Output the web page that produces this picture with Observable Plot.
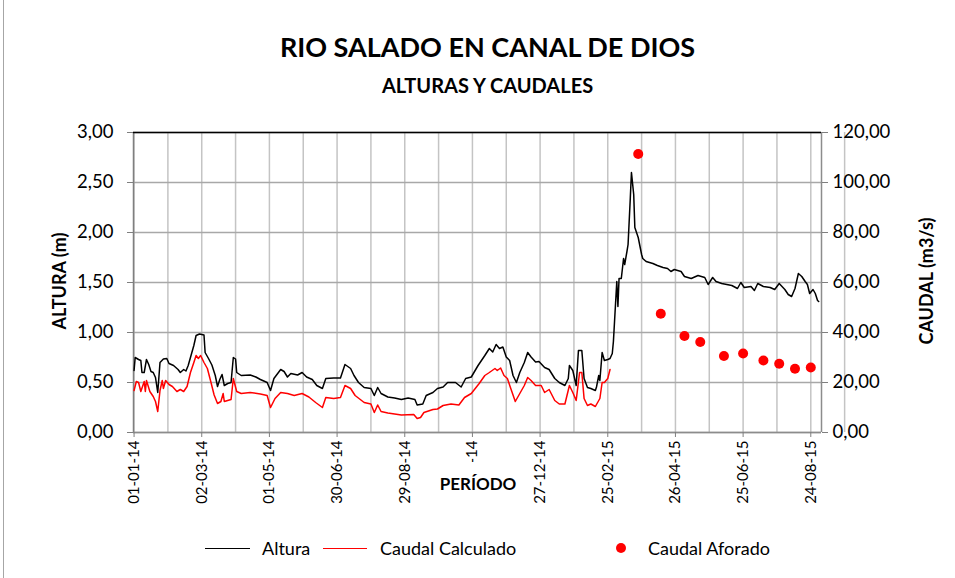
<!DOCTYPE html>
<html>
<head>
<meta charset="utf-8">
<script src="https://cdn.jsdelivr.net/npm/d3@7"></script>
<script src="https://cdn.jsdelivr.net/npm/@observablehq/plot@0.6"></script>
<style>
  body { margin: 0; background: #fff; }
  #wrap { position: relative; width: 955px; height: 578px; overflow: hidden; font-family: Lato, "Open Sans", sans-serif; color: #000; background: #fff; }
  #chart { position: absolute; left: 0; top: 0; }
  .abs { position: absolute; white-space: nowrap; }
  #title { left: 0; width: 975px; top: 30px; text-align: center; font-weight: bold; font-size: 27px; }
  #subtitle { left: 0; width: 975px; top: 73px; text-align: center; font-weight: bold; font-size: 20px; }
  .ytitle { font-weight: bold; font-size: 18px; transform-origin: center center; }
  #xtitle { left: 433px; top: 462px; width: 90px; height: 44px; line-height: 44px; text-align: center; font-weight: bold; font-size: 17px; background: #fff; }
  .leg { font-size: 18px; top: 537px; }
  .sw { position: absolute; height: 0; top: 548px; }
  #border { position: absolute; left: 3px; top: 0; width: 0; height: 578px; border-left: 1px solid #a6a6a6; }
</style>
</head>
<body>
<div id="wrap">
  <div id="border"></div>
  <div id="chart"></div>
  <div id="title" class="abs">RIO SALADO EN CANAL DE DIOS</div>
  <div id="subtitle" class="abs">ALTURAS Y CAUDALES</div>
  <div class="abs ytitle" style="left:7px; top:270px; width:104px; text-align:center; transform: rotate(-90deg);">ALTURA (m)</div>
  <div class="abs ytitle" style="left:857px; top:270px; width:138px; text-align:center; transform: rotate(-90deg);">CAUDAL (m3/s)</div>
  <div id="xtitle" class="abs">PERÍODO</div>
  <div class="sw" style="left:205px; width:45px; border-top:1.5px solid #000;"></div>
  <div class="abs leg" style="left:262px;">Altura</div>
  <div class="sw" style="left:323px; width:44px; border-top:1.5px solid #ff0000;"></div>
  <div class="abs leg" style="left:380px;">Caudal Calculado</div>
  <div class="abs" style="left:616px; top:543px; width:10px; height:10px; border-radius:50%; background:#ff0000;"></div>
  <div class="abs leg" style="left:648px;">Caudal Aforado</div>
</div>
<script>
// ---- Data (day offsets counted from 01-01-2014) ----
const fechaInicio = "2014-01-01";

const alturaDias = [0,1,4,6,7,9,11,13,15,17,19,21,23,26,29,31,35,39,41,44,46,48,51,53,55,58,62,63,66,69,72,74,76,78,80,83,86,88,90,91,95,103,108,112,118,121,124,130,133,136,139,145,149,153,158,162,167,170,177,183,187,192,195,199,204,210,213,216,219,225,231,237,243,249,251,256,259,265,269,274,278,285,290,294,299,305,311,315,318,321,324,327,330,333,336,339,342,346,349,352,356,359,364,368,373,377,382,385,386,389,392,394,397,399,402,405,409,410,412,413,415,417,420,422,424,425,426,428,429,430,432,434,435,437,438,440,441,443,444,447,450,451,454,460,464,469,473,476,479,482,485,488,494,500,506,509,513,516,521,530,535,538,541,547,550,553,558,564,568,572,577,580,583,586,589,592,595,597,599,602,604,606,607];
const alturaValores = [0.62,0.75,0.73,0.72,0.60,0.60,0.73,0.68,0.61,0.60,0.55,0.40,0.70,0.735,0.74,0.69,0.67,0.63,0.60,0.63,0.615,0.67,0.79,0.87,0.97,0.985,0.975,0.80,0.74,0.675,0.57,0.46,0.53,0.58,0.47,0.49,0.50,0.75,0.735,0.60,0.57,0.575,0.555,0.53,0.50,0.42,0.54,0.63,0.61,0.555,0.59,0.575,0.60,0.555,0.53,0.47,0.44,0.54,0.545,0.545,0.68,0.64,0.57,0.50,0.45,0.44,0.37,0.45,0.39,0.355,0.345,0.33,0.345,0.33,0.275,0.285,0.37,0.40,0.44,0.455,0.50,0.50,0.455,0.54,0.555,0.67,0.77,0.84,0.805,0.88,0.84,0.855,0.755,0.72,0.57,0.50,0.60,0.70,0.80,0.755,0.705,0.71,0.65,0.63,0.54,0.50,0.47,0.54,0.67,0.62,0.47,0.82,0.82,0.54,0.45,0.44,0.42,0.455,0.57,0.52,0.80,0.72,0.73,0.74,0.79,0.91,1.11,1.51,1.26,1.54,1.54,1.74,1.68,1.81,1.88,2.35,2.60,2.38,2.05,1.95,1.78,1.74,1.71,1.69,1.67,1.65,1.64,1.61,1.63,1.62,1.61,1.56,1.54,1.57,1.55,1.48,1.55,1.51,1.49,1.47,1.44,1.50,1.45,1.46,1.42,1.49,1.46,1.45,1.43,1.49,1.43,1.38,1.36,1.44,1.59,1.56,1.51,1.48,1.39,1.43,1.39,1.32,1.31];

const caudalCalcDias = [0,2,4,6,9,10,11,14,17,19,21,23,25,26,28,31,34,38,41,44,47,50,53,55,57,59,62,65,68,71,74,77,79,80,83,86,88,91,95,103,112,118,121,125,130,136,142,149,155,161,167,170,177,183,187,192,196,204,210,213,216,219,225,237,248,251,254,257,265,269,274,281,288,293,299,306,311,315,320,322,325,328,331,334,338,342,346,349,352,356,361,364,368,373,377,382,386,389,392,395,397,399,402,405,409,413,415,417,420,422];
const caudalCalcValores = [16.8,20.4,20.0,16.4,20.4,16.4,20.8,16.4,14.4,12.4,8.4,16.8,20.8,17.6,20.8,19.2,18.4,16.4,17.2,16.4,18.4,24.0,28.0,30.8,29.6,30.8,28.0,25.6,20.4,15.0,11.6,12.4,15.6,12.4,12.8,13.2,21.6,16.4,15.6,16.0,15.4,14.8,10.0,13.6,16.0,15.6,14.8,15.6,14.2,12.0,10.0,14.0,13.6,14.0,18.8,17.6,14.8,12.0,11.4,8.0,11.0,8.4,7.8,7.0,7.2,5.6,6.0,8.0,9.2,9.4,10.8,11.4,11.0,14.0,15.6,19.6,22.8,24.0,25.6,24.8,25.8,22.8,21.6,17.6,12.4,15.6,18.8,22.0,20.8,18.8,18.8,16.0,17.2,12.8,11.4,11.4,18.8,16.0,12.8,24.0,24.0,13.6,10.8,11.4,10.4,13.6,20.0,20.0,21.6,25.2];

const aforoDias = [447,467,488,502,523,540,558,572,586,600];
const aforoValores = [111.4,47.5,38.6,36.2,30.6,31.6,28.8,27.5,25.5,26.0];

const etiquetasX = ["01-01-14","02-03-14","01-05-14","30-06-14","29-08-14","28-10-14","27-12-14","25-02-15","26-04-15","25-06-15","24-08-15"];
const ticksAltura = [0,0.5,1,1.5,2,2.5,3];
const factorCaudal = 40; // 3,00 m  <->  120,00 m3/s

// ---- Build ----
const t0 = Date.parse(fechaInicio + "T00:00:00Z");
const day = 864e5;
const toDate = d => new Date(t0 + d * day);
const parseX = d3.utcParse("%d-%m-%y");
const fmtX = d3.utcFormat("%d-%m-%y");
const fmtNum = v => v.toFixed(2).replace(".", ",");

const altura = alturaDias.map((d, i) => ({fecha: toDate(d), v: alturaValores[i]}));
const caudal = caudalCalcDias.map((d, i) => ({fecha: toDate(d), q: caudalCalcValores[i]}));
const aforos = aforoDias.map((d, i) => ({fecha: toDate(d), q: aforoValores[i]}));
const tickFechas = etiquetasX.map(parseX);
const gridFechas = tickFechas.flatMap(f => [f, new Date(+f + 30 * day)]);

const xDomain = [toDate(-0.5), toDate(609.5)];

const chart = Plot.plot({
  width: 955, height: 578,
  marginLeft: 133, marginRight: 134, marginTop: 132, marginBottom: 146,
  style: {fontFamily: "Lato, 'Open Sans', sans-serif", fontSize: "18px", color: "#000", background: "transparent"},
  x: {type: "utc", domain: xDomain},
  y: {domain: [0, 3]},
  marks: [
    Plot.gridX(gridFechas, {stroke: "#c4c4c4", strokeOpacity: 1, strokeWidth: 1.5}),
    Plot.gridY(ticksAltura, {stroke: "#a8a8a8", strokeOpacity: 1, strokeWidth: 1.5}),
    Plot.ruleX([xDomain[0]], {stroke: "#7f7f7f", strokeWidth: 1.5}),
    Plot.ruleX([xDomain[1]], {stroke: "#8c8c8c", strokeWidth: 1.5}),
    Plot.ruleY([0], {stroke: "#8c8c8c", strokeWidth: 1.5}),
    Plot.ruleY([3], {stroke: "#000", strokeWidth: 1.5}),
    Plot.axisY({anchor: "left", ticks: ticksAltura, tickFormat: fmtNum, tickSize: 6, tickPadding: 14, stroke: "#7f7f7f", label: null, fontSize: 18.5}),
    Plot.axisY({anchor: "right", ticks: ticksAltura, tickFormat: v => fmtNum(v * factorCaudal), tickSize: 6, tickPadding: 5, stroke: "#7f7f7f", label: null, fontSize: 18.5}),
    Plot.axisX({ticks: tickFechas, tickFormat: fmtX, tickRotate: -90, tickSize: 5, tickPadding: 3, stroke: "#7f7f7f", label: null, fontSize: 15}),
    Plot.line(caudal, {x: "fecha", y: d => d.q / factorCaudal, stroke: "#ff0000", strokeWidth: 1.5}),
    Plot.line(altura, {x: "fecha", y: "v", stroke: "#000", strokeWidth: 1.5}),
    Plot.dot(aforos, {x: "fecha", y: d => d.q / factorCaudal, r: 5, fill: "#ff0000", stroke: null})
  ]
});
document.getElementById("chart").appendChild(chart);
</script>
</body>
</html>
